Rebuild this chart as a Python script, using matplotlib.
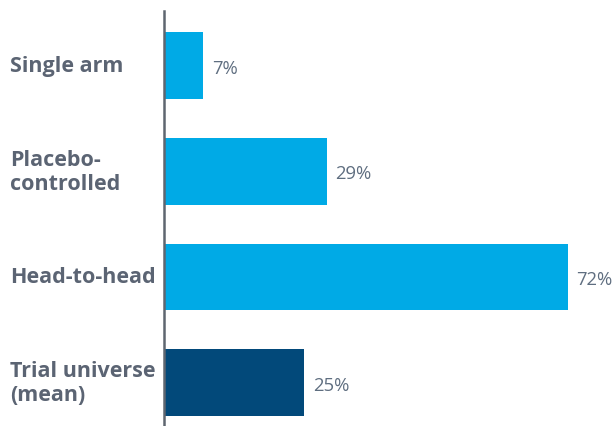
import matplotlib
matplotlib.use("Agg")
import matplotlib.pyplot as plt
from matplotlib.transforms import blended_transform_factory

categories = ["Single arm", "Placebo-\ncontrolled", "Head-to-head", "Trial universe\n(mean)"]
values = [7, 29, 72, 25]
value_labels = ["7%", "29%", "72%", "25%"]
colors = ["#00AAE6", "#00AAE6", "#00AAE6", "#02497A"]

plt.rcParams['font.family'] = ['Open Sans', 'DejaVu Sans']

fig = plt.figure(figsize=(6.14, 4.27), dpi=100)
ax = fig.add_axes([164/614, 0, 1 - 164/614, 1 - 12/427])

y = list(range(len(categories)))
ax.barh(y, values, height=0.632, color=colors)
ax.set_xlim(0, 80.2)
ax.set_ylim(3.41, -0.515)

for s in ["top", "right", "bottom"]:
    ax.spines[s].set_visible(False)
ax.spines["left"].set_color("#5F6670")
ax.spines["left"].set_linewidth(1.8)
ax.set_xticks([])
ax.set_yticks([])

trans = blended_transform_factory(fig.transFigure, ax.transData)
for yi, cat in zip(y, categories):
    ax.text(10/614, yi, cat, transform=trans, ha="left", va="center",
            fontsize=15.5, fontweight="bold", color="#5B6473", linespacing=1.2)

for yi, v, lab in zip(y, values, value_labels):
    ax.text(v + 1.5, yi + 0.02, lab, ha="left", va="center", fontsize=13.3, color="#5F6E80")

fig.savefig("out.png", dpi=100)
